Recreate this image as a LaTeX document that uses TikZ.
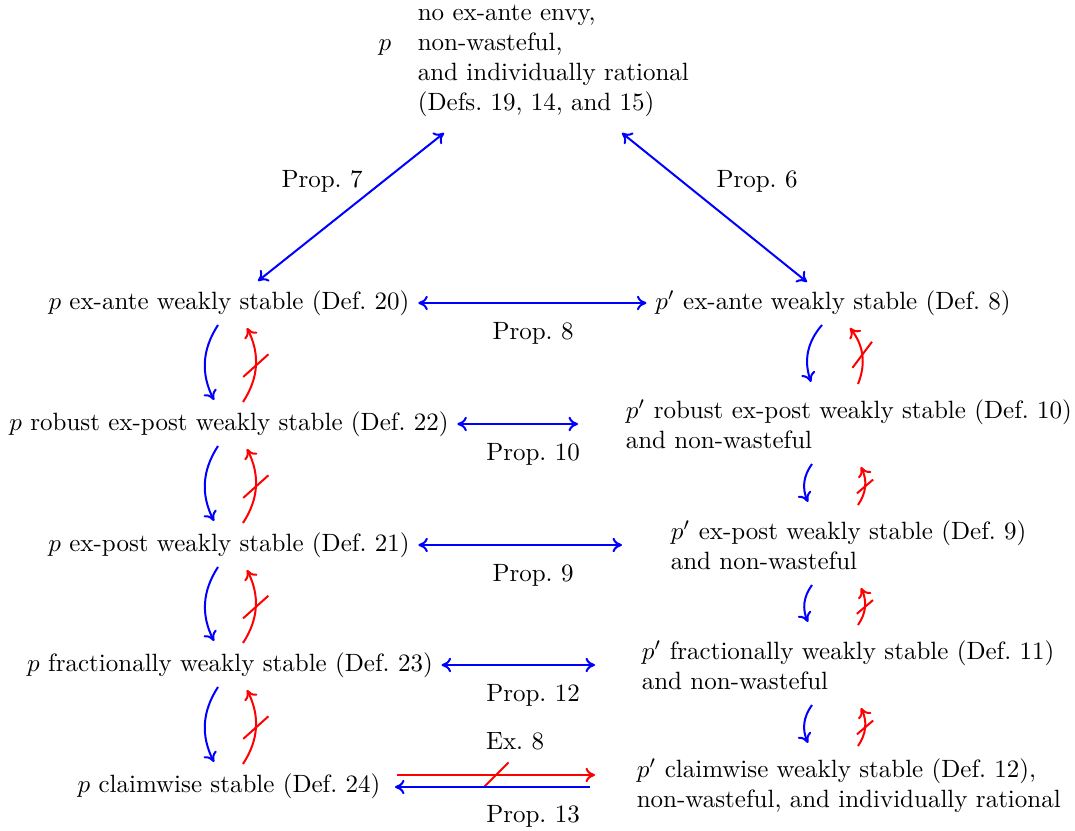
\documentclass[tikz,border=0pt]{standalone}
\usetikzlibrary{calc,decorations.markings,arrows.meta}
\begin{document}
\begin{tikzpicture}[x=0.4pt,y=-0.4pt,>={Computer Modern Rightarrow[length=3.8pt,width=5.8pt]},
  eqv/.style={blue,thick,<->},
  imp/.style={blue,thick,->},
  nimpv/.style={red,thick,->,postaction={decorate,decoration={markings,mark=at position 0.5 with {\draw[red,thick,-] (-#1,#1) -- (#1,-#1);}}}},
  nimph/.style={red,thick,->,postaction={decorate,decoration={markings,mark=at position 0.5 with {\draw[red,thick,-] (-#1,-#1) -- (#1,#1);}}}},
  multi/.style={anchor=west,align=left}]
\useasboundingbox (0,0) rectangle (1075,831);

% top node
\node[anchor=base] (ptop) at (385,50.5) {$p$};
\node[multi] (top) at (409,61) {no ex-ante envy,\\non-wasteful,\\and individually rational\\(Defs.~19, 14, and 15)};

% left column
\node (L1) at (229,303) {$p$ ex-ante weakly stable (Def.~20)};
\node (L2) at (229,424) {$p$ robust ex-post weakly stable (Def.~22)};
\node (L3) at (229,545) {$p$ ex-post weakly stable (Def.~21)};
\node (L4) at (230,665) {$p$ fractionally weakly stable (Def.~23)};
\node (L5) at (229,786) {$p$ claimwise stable (Def.~24)};

% right column
\node (R1) at (833,303) {$p'$ ex-ante weakly stable (Def.~8)};
\node[multi] (R2) at (617,424) {$p'$ robust ex-post weakly stable (Def.~10)\\and non-wasteful};
\node[multi] (R3) at (662,545) {$p'$ ex-post weakly stable (Def.~9)\\and non-wasteful};
\node[multi] (R4) at (633,665) {$p'$ fractionally weakly stable (Def.~11)\\and non-wasteful};
\node[multi] (R5) at (628,786) {$p'$ claimwise weakly stable (Def.~12),\\non-wasteful, and individually rational};

% labels
\node (P7) at (322,181) {Prop.~7};
\node (P6) at (757,181) {Prop.~6};
\node (P8) at (533,333) {Prop.~8};
\node (P10) at (533,454) {Prop.~10};
\node (P9) at (533,575) {Prop.~9};
\node (P12) at (533,695) {Prop.~12};
\node (E8) at (515,741) {Ex.~8};
\node (P13) at (533,816) {Prop.~13};

% diagonal arrows
\coordinate (d7a) at (444,133); \coordinate (d7b) at (258,281);
\coordinate (d6a) at (622,133); \coordinate (d6b) at (807,282);
\draw[eqv] (d7a) -- (d7b);
\draw[eqv] (d6a) -- (d6b);

% horizontal arrows
\coordinate (e2) at (578,424);
\coordinate (e3) at (622,545);
\coordinate (e4) at (595,665);
\draw[eqv] (L1.east) -- (R1.west);
\draw[eqv] (L2.east) -- (e2);
\draw[eqv] (L3.east) -- (e3);
\draw[eqv] (L4.east) -- (e4);
\coordinate (r5a) at (397,775); \coordinate (r5b) at (595,775);
\coordinate (b5a) at (590,787); \coordinate (b5b) at (395,787);
\draw[nimph=5pt] (r5a) -- (r5b);
\draw[imp] (b5a) -- (b5b);

% left vertical pairs
\foreach \i/\ya/\yb in {1/303/424,2/424/545,3/545/665,4/665/786}{
  \coordinate (lb\i a) at (218,\ya+22);
  \coordinate (lb\i b) at (214,\yb-24);
  \coordinate (lr\i a) at (243,\yb-22);
  \coordinate (lr\i b) at (247,\ya+25);
  \draw[imp] (lb\i a) to[bend right] (lb\i b);
  \draw[nimpv=4.8pt] (lr\i a) to[bend right] (lr\i b);
}

% right vertical pairs
\coordinate (rb1a) at (822,325); \coordinate (rb1b) at (811,382);
\coordinate (rr1a) at (858,384); \coordinate (rr1b) at (850,328);
\draw[imp] (rb1a) to[bend right] (rb1b);
\draw[nimpv=4.6pt] (rr1a) to[bend right] (rr1b);
\foreach \i/\ya/\yb in {2/424/545,3/545/665,4/665/786}{
  \coordinate (rb\i a) at (812,\ya+40);
  \coordinate (rb\i b) at (808,\yb-43);
  \coordinate (rr\i a) at (858,\yb-40);
  \coordinate (rr\i b) at (861,\ya+43);
  \draw[imp] (rb\i a) to[bend right] (rb\i b);
  \draw[nimpv=3pt] (rr\i a) to[bend right] (rr\i b);
}
\end{tikzpicture}
\end{document}
